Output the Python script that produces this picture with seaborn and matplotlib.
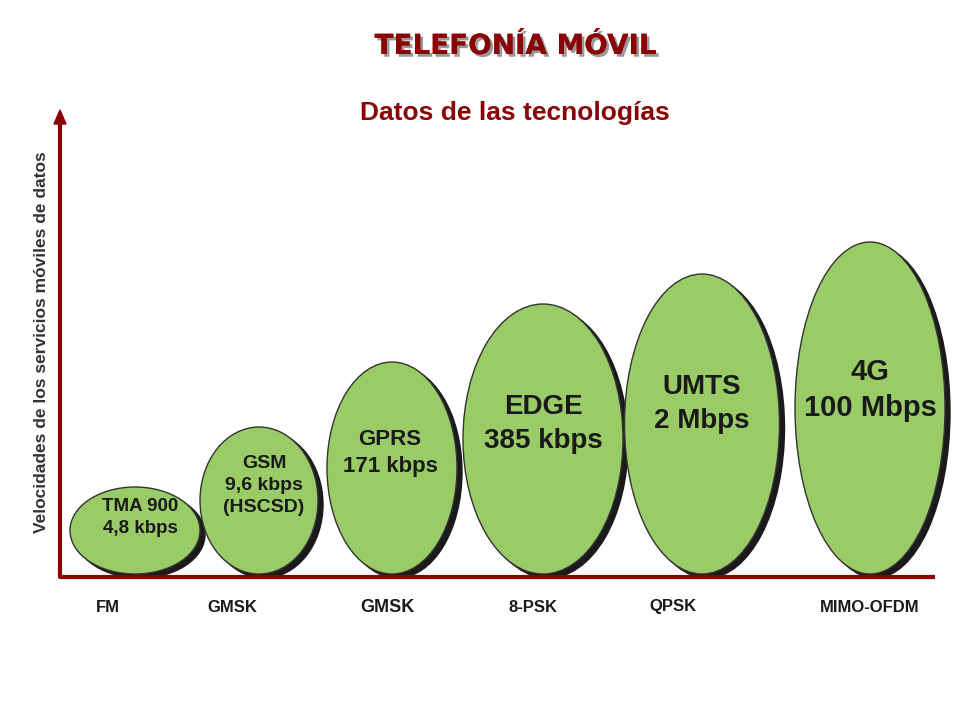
import matplotlib
matplotlib.use("Agg")
import matplotlib.pyplot as plt
import matplotlib.patheffects as pe
import seaborn as sns
from matplotlib.patches import Ellipse, FancyArrow

tecnologias = ["TMA 900\n4,8 kbps", "GSM\n9,6 kbps\n(HSCSD)", "GPRS\n171 kbps",
               "EDGE\n385 kbps", "UMTS\n2 Mbps", "4G\n100 Mbps"]
modulaciones = ["FM", "GMSK", "GMSK", "8-PSK", "QPSK", "MIMO-OFDM"]
# relative bubble height (px) and width
alturas = [87, 147, 212, 270, 300, 332]
anchos = [130, 118, 130, 160, 155, 150]
centros_x = [135, 259, 392, 543, 702, 870]
label_x = [108, 232, 387, 533, 673, 870]
fuentes = [13.5, 14, 16, 20, 20, 21]

sns.set_theme(style="white")
plt.rcParams['font.family'] = ['Liberation Sans', 'DejaVu Sans']
fig = plt.figure(figsize=(9.6, 7.2), dpi=100)
ax = fig.add_axes([0, 0, 1, 1])
ax.set_xlim(0, 960); ax.set_ylim(720, 0); ax.axis("off")

base = 574
offs = {"TMA": (5, -13), "GSM": (5, -15), "GPR": (-2, -15), "EDG": (0, -15), "UMT": (0, -20), "4G\n": (0, -18)}
for t, h, w, cx, fs in zip(tecnologias, alturas, anchos, centros_x, fuentes):
    cy = base - h / 2
    ax.add_patch(Ellipse((cx + 5, cy + 4), w, h, color="#1a1a1a", zorder=2))
    ax.add_patch(Ellipse((cx, cy), w, h, facecolor="#99CC66", edgecolor="#333333", lw=1, zorder=3))
    dx, dy = offs[t[:3]]
    ax.text(cx + dx, cy + dy, t, ha="center", va="center", fontsize=fs, fontweight="bold",
            color="#1a1a1a", linespacing=1.4, zorder=4)

dark = "#8B0000"
ax.plot([60, 935], [577, 577], color=dark, lw=3, zorder=5, solid_capstyle="butt")
ax.plot([60, 60], [577, 122], color=dark, lw=3, zorder=5)
ax.add_patch(FancyArrow(60, 124, 0, -14, width=0, head_width=12, head_length=14,
                        color=dark, length_includes_head=True, zorder=5))

for m, x in zip(modulaciones, label_x):
    ax.text(x, 607, m, ha="center", va="center", fontsize=12 if m != "GMSK" or x < 300 else 13,
            fontweight="bold", color="#1a1a1a")

ax.text(515, 46, "TELEFONÍA MÓVIL", ha="center", va="center", fontsize=20,
        fontweight="bold", color=dark, family=["DejaVu Sans"],
        path_effects=[pe.withSimplePatchShadow(offset=(2, -2), shadow_rgbFace="#999999", alpha=1), pe.Normal()])
ax.text(515, 113, "Datos de las tecnologías", ha="center", va="center", fontsize=19,
        fontweight="bold", color=dark)
ax.text(42, 342, "Velocidades de los servicios móviles de datos", rotation=90,
        ha="center", va="center", fontsize=12.5, fontweight="bold", color="#333333")

fig.savefig("out.png", dpi=100)
